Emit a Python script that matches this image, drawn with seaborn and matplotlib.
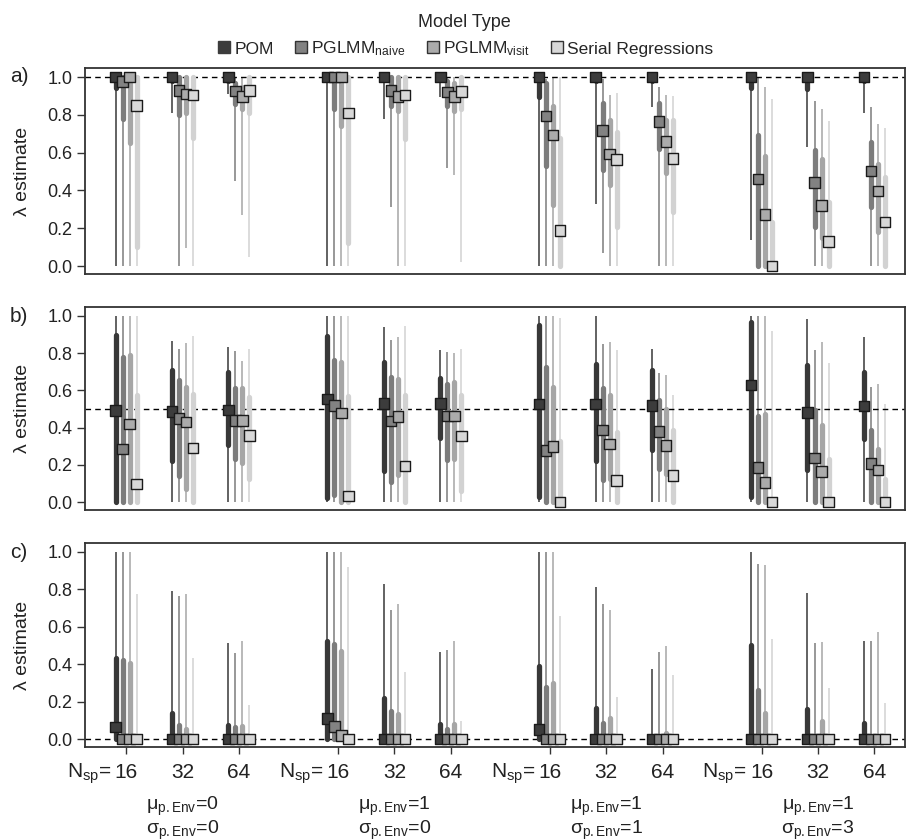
import matplotlib
matplotlib.use("Agg")
import matplotlib.pyplot as plt
from matplotlib.lines import Line2D
from matplotlib.transforms import blended_transform_factory
import pandas as pd
import seaborn as sns

sns.set_style("ticks")
plt.rcParams["font.family"] = ["Liberation Sans", "DejaVu Sans"]
plt.rcParams["mathtext.fontset"] = "custom"
plt.rcParams["mathtext.rm"] = "Liberation Sans"
plt.rcParams["mathtext.it"] = "Liberation Sans:italic"

models = ["POM", "PGLMM_naive", "PGLMM_visit", "Serial Regressions"]
legend_labels = ["POM", r"PGLMM$_{\mathrm{naive}}$", r"PGLMM$_{\mathrm{visit}}$", "Serial Regressions"]
n_sp = [16, 32, 64]
mu_env = [0, 1, 1, 1]
sigma_env = [0, 0, 1, 3]
true_lambda = [1.0, 0.5, 0.0]
panel_tags = ["a)", "b)", "c)"]

# rows: (mu, sigma) scenario x N_sp 16/32/64 ; columns: the 4 models
a_lo = [[0, 0, 0, 0], [0.81, 0, 0.095, 0], [0.91, 0.45, 0.27, 0.05],
        [0, 0, 0, 0], [0.78, 0.31, 0, 0], [0.894, 0.52, 0.48, 0.02],
        [0, 0, 0, 0], [0.33, 0.067, 0, 0], [0.84, 0, 0, 0],
        [0.138, 0, 0, 0], [0.632, 0, 0, 0], [0.81, 0, 0, 0]]
a_q1 = [[0.94, 0.78, 0.65, 0.10], [0.98, 0.80, 0.81, 0.68], [0.98, 0.86, 0.83, 0.81],
        [0.99, 0.83, 0.74, 0.12], [0.99, 0.845, 0.82, 0.67], [0.99, 0.845, 0.82, 0.83],
        [0.894, 0.527, 0.323, 0], [0.98, 0.509, 0.43, 0.208], [0.98, 0.618, 0.49, 0.288],
        [0.94, 0, 0, 0], [0.936, 0.208, 0.147, 0], [0.98, 0.314, 0.182, 0]]
a_med = [[1.0, 0.977, 1.0, 0.85], [1.0, 0.93, 0.91, 0.905], [1.0, 0.927, 0.897, 0.93],
         [1.0, 1.0, 1.0, 0.81], [1.0, 0.93, 0.897, 0.906], [1.0, 0.92, 0.897, 0.924],
         [1.0, 0.795, 0.694, 0.187], [1.0, 0.717, 0.594, 0.565], [1.0, 0.765, 0.66, 0.569],
         [1.0, 0.46, 0.274, 0.0], [1.0, 0.443, 0.32, 0.129], [1.0, 0.504, 0.398, 0.233]]
a_q3 = [[1.0, 1.0, 1.0, 1.0], [1.0, 1.0, 1.0, 1.0], [1.0, 0.97, 0.95, 1.0],
        [1.0, 1.0, 1.0, 1.0], [1.0, 1.0, 1.0, 1.0], [1.0, 0.977, 0.97, 1.0],
        [1.0, 0.97, 0.845, 0.677], [1.0, 0.862, 0.774, 0.712], [1.0, 0.862, 0.774, 0.774],
        [1.0, 0.694, 0.58, 0.235], [1.0, 0.615, 0.565, 0.341], [1.0, 0.654, 0.54, 0.47]]
a_hi = [[1.0, 1.0, 1.0, 1.0], [1.0, 1.0, 1.0, 1.0], [1.0, 1.0, 1.0, 1.0],
        [1.0, 1.0, 1.0, 1.0], [1.0, 1.0, 1.0, 1.0], [1.0, 1.0, 1.0, 1.0],
        [1.0, 0.99, 1.0, 1.0], [1.0, 0.99, 0.906, 0.915], [1.0, 0.947, 0.906, 0.9],
        [1.0, 1.0, 0.95, 0.883], [1.0, 0.871, 0.83, 0.765], [1.0, 0.84, 0.753, 0.73]]

b_lo = [[0, 0, 0, 0], [0, 0, 0, 0], [0, 0, 0, 0],
        [0, 0, 0, 0], [0, 0, 0, 0], [0, 0, 0, 0],
        [0, 0, 0, 0], [0, 0, 0, 0], [0, 0, 0, 0],
        [0, 0, 0, 0], [0, 0, 0, 0], [0, 0, 0, 0]]
b_q1 = [[0, 0, 0, 0], [0.221, 0.143, 0.073, 0], [0.308, 0.23, 0.213, 0.125],
        [0.02, 0.04, 0, 0], [0.169, 0.108, 0.146, 0], [0.343, 0.225, 0.23, 0.059],
        [0.03, 0, 0, 0], [0.221, 0.117, 0.125, 0], [0.282, 0.178, 0.152, 0],
        [0.03, 0, 0, 0], [0.174, 0, 0, 0], [0.338, 0, 0, 0]]
b_med = [[0.493, 0.285, 0.419, 0.097], [0.487, 0.448, 0.43, 0.29], [0.496, 0.44, 0.44, 0.357],
         [0.555, 0.519, 0.479, 0.033], [0.529, 0.436, 0.46, 0.195], [0.529, 0.462, 0.462, 0.356],
         [0.528, 0.277, 0.3, 0.0], [0.527, 0.387, 0.313, 0.117], [0.518, 0.379, 0.304, 0.142],
         [0.629, 0.186, 0.107, 0.0], [0.48, 0.238, 0.165, 0.0], [0.516, 0.208, 0.172, 0.0]]
b_q3 = [[0.90, 0.778, 0.789, 0.577], [0.71, 0.655, 0.62, 0.58], [0.70, 0.613, 0.613, 0.563],
        [0.894, 0.766, 0.754, 0.572], [0.754, 0.673, 0.66, 0.577], [0.665, 0.637, 0.643, 0.577],
        [0.951, 0.725, 0.62, 0.326], [0.743, 0.613, 0.576, 0.378], [0.71, 0.546, 0.502, 0.387],
        [0.968, 0.463, 0.472, 0.0], [0.734, 0.493, 0.414, 0.23], [0.699, 0.39, 0.286, 0.125]]
b_hi = [[1.0, 1.0, 1.0, 1.0], [0.866, 0.824, 0.854, 0.894], [0.831, 0.813, 0.76, 0.824],
        [1.0, 1.0, 1.0, 1.0], [0.942, 0.871, 0.886, 0.945], [0.819, 0.806, 0.80, 0.824],
        [1.0, 1.0, 1.0, 0.99], [1.0, 0.849, 0.859, 0.815], [0.824, 0.695, 0.683, 0.577],
        [1.0, 1.0, 1.0, 0.919], [0.986, 0.819, 0.859, 0.748], [0.886, 0.621, 0.634, 0.528]]

c_lo = [[0, 0, 0, 0], [0, 0, 0, 0], [0, 0, 0, 0],
        [0, 0, 0, 0], [0, 0, 0, 0], [0, 0, 0, 0],
        [0, 0, 0, 0], [0, 0, 0, 0], [0, 0, 0, 0],
        [0, 0, 0, 0], [0, 0, 0, 0], [0, 0, 0, 0]]
c_q1 = [[0, 0, 0, 0], [0, 0, 0, 0], [0, 0, 0, 0],
        [0, 0, 0, 0], [0, 0, 0, 0], [0, 0, 0, 0],
        [0, 0, 0, 0], [0, 0, 0, 0], [0, 0, 0, 0],
        [0, 0, 0, 0], [0, 0, 0, 0], [0, 0, 0, 0]]
c_med = [[0.064, 0, 0, 0], [0, 0, 0, 0], [0, 0, 0, 0],
         [0.111, 0.067, 0.02, 0], [0, 0, 0, 0], [0, 0, 0, 0],
         [0.053, 0, 0, 0], [0, 0, 0, 0], [0, 0, 0, 0],
         [0, 0, 0, 0], [0, 0, 0, 0], [0, 0, 0, 0]]
c_q3 = [[0.433, 0.424, 0.406, 0], [0.141, 0.076, 0.055, 0], [0.076, 0.064, 0.071, 0],
        [0.527, 0.509, 0.47, 0], [0.221, 0.15, 0.133, 0], [0.081, 0.053, 0.081, 0],
        [0.389, 0.276, 0.30, 0], [0.164, 0.085, 0.111, 0], [0, 0, 0.035, 0],
        [0.505, 0.261, 0.141, 0], [0.159, 0, 0.099, 0], [0.088, 0, 0, 0]]
c_hi = [[1.0, 1.0, 1.0, 0.774], [0.792, 0.765, 0.774, 0.433], [0.512, 0.459, 0.523, 0.182],
        [1.0, 1.0, 1.0, 0.919], [0.827, 0.689, 0.724, 0.359], [0.463, 0.477, 0.523, 0.097],
        [1.0, 1.0, 1.0, 0.659], [0.814, 0.721, 0.691, 0.226], [0.376, 0.468, 0.495, 0.345],
        [1.0, 0.936, 0.928, 0.535], [0.779, 0.512, 0.518, 0.274], [0.527, 0.527, 0.574, 0.194]]

line_cols = ["#383838", "#7c7c7c", "#a6a6a6", "#d2d2d2"]
fill_cols = ["#3c3c3c", "#828282", "#ababab", "#d8d8d8"]
GROUP_STEP = 3.75
OFFSETS = [-0.186, -0.062, 0.062, 0.186]


def long_table(lo, q1, med, q3, hi):
    rows = []
    for k in range(len(med)):
        g, i = divmod(k, 3)
        for m, name in enumerate(models):
            rows.append(dict(model=name, x=g * GROUP_STEP + i + OFFSETS[m],
                             lo=lo[k][m], q1=q1[k][m], med=med[k][m],
                             q3=q3[k][m], hi=hi[k][m]))
    return pd.DataFrame(rows)


panels = [long_table(a_lo, a_q1, a_med, a_q3, a_hi),
          long_table(b_lo, b_q1, b_med, b_q3, b_hi),
          long_table(c_lo, c_q1, c_med, c_q3, c_hi)]

W, H = 906, 840
fig = plt.figure(figsize=(W / 100, H / 100), dpi=100)
# (top, bottom) of each panel in pixels
boxes = [(68, 274), (307, 510), (543, 747)]
left_px, right_px = 85, 905
axes = [fig.add_axes([left_px / W, 1 - b / H, (right_px - left_px) / W, (b - t) / H]) for t, b in boxes]

for p, (ax, df) in enumerate(zip(axes, panels)):
    for m, name in enumerate(models):
        sub = df[df.model == name]
        ax.vlines(sub.x, sub.lo, sub.hi, color=line_cols[m], lw=1.1, zorder=1)
        ax.vlines(sub.x, sub.q1, sub.q3, color=line_cols[m], lw=3.8,
                  capstyle="round", zorder=2)
    ax.axhline(true_lambda[p], color="black", ls=(0, (4, 3)), lw=1.0, zorder=1.5)
    sns.scatterplot(data=df, x="x", y="med", hue="model", hue_order=models,
                    palette=fill_cols, marker="s", s=58, edgecolor="#1a1a1a",
                    linewidth=1.0, legend=False, ax=ax, zorder=3)
    ax.set_xlim(-0.726, 13.79)
    ax.set_ylim(-0.042, 1.048)
    ax.set_yticks([0, 0.2, 0.4, 0.6, 0.8, 1.0])
    ax.set_yticklabels(["0.0", "0.2", "0.4", "0.6", "0.8", "1.0"], fontsize=13, color="#222222")
    ax.tick_params(axis="y", direction="out", length=6, width=1, color="#333333", pad=3)
    ax.set_xlabel("")
    ax.set_ylabel("")
    for s in ax.spines.values():
        s.set_visible(True)
        s.set_color("#333333")
        s.set_linewidth(1.3)
    y_top = 1 - (boxes[p][0] + 9) / H
    fig.text(10 / W, y_top, panel_tags[p], fontsize=15, va="center", ha="left", color="#222222")
    fig.text(23 / W, 1 - (boxes[p][0] + boxes[p][1]) / 2 / H, "λ estimate", rotation=90,
             fontsize=14, va="center", ha="center", color="#222222")

for ax in axes[:2]:
    ax.set_xticks([])

ax = axes[2]
tick_pos = [g * GROUP_STEP + i for g in range(4) for i in range(3)]
ax.set_xticks(tick_pos)
ax.set_xticklabels([])
ax.tick_params(axis="x", direction="out", length=5, width=1, color="#333333")
tr = blended_transform_factory(ax.transData, fig.transFigure)
narrow = ["Liberation Sans Narrow", "Liberation Sans"]
for g in range(4):
    for i in range(3):
        ax.text(g * GROUP_STEP + i, 1 - 772 / H, str(n_sp[i]), transform=tr, ha="center",
                va="center", fontsize=15, family=narrow, color="#222222")
    ax.text(g * GROUP_STEP - 0.26, 1 - 774 / H, r"N$_{\mathrm{sp}}$=", transform=tr, ha="right",
            va="center", fontsize=15, family=narrow, color="#222222")
    ax.text(g * GROUP_STEP + 1, 1 - 806 / H, "μ" + r"$_{\mathrm{p.Env}}$=" + str(mu_env[g]),
            transform=tr, ha="center", va="center", fontsize=14, family=narrow, color="#222222")
    ax.text(g * GROUP_STEP + 1, 1 - 830 / H, "σ" + r"$_{\mathrm{p.Env}}$=" + str(sigma_env[g]),
            transform=tr, ha="center", va="center", fontsize=14, family=narrow, color="#222222")

handles = [Line2D([], [], marker="s", ls="none", markersize=8.5, markerfacecolor=fill_cols[m],
                  markeredgecolor="#333333" if m else fill_cols[0], markeredgewidth=1)
           for m in range(4)]
fig.legend(handles, legend_labels, loc="upper center", bbox_to_anchor=(464 / W, 0.998),
           ncol=4, frameon=False, title="Model Type", fontsize=12.5, title_fontsize=13,
           handletextpad=0.05, columnspacing=1.0, handlelength=1.1, borderpad=0.2)

fig.savefig("out.png", dpi=100)
